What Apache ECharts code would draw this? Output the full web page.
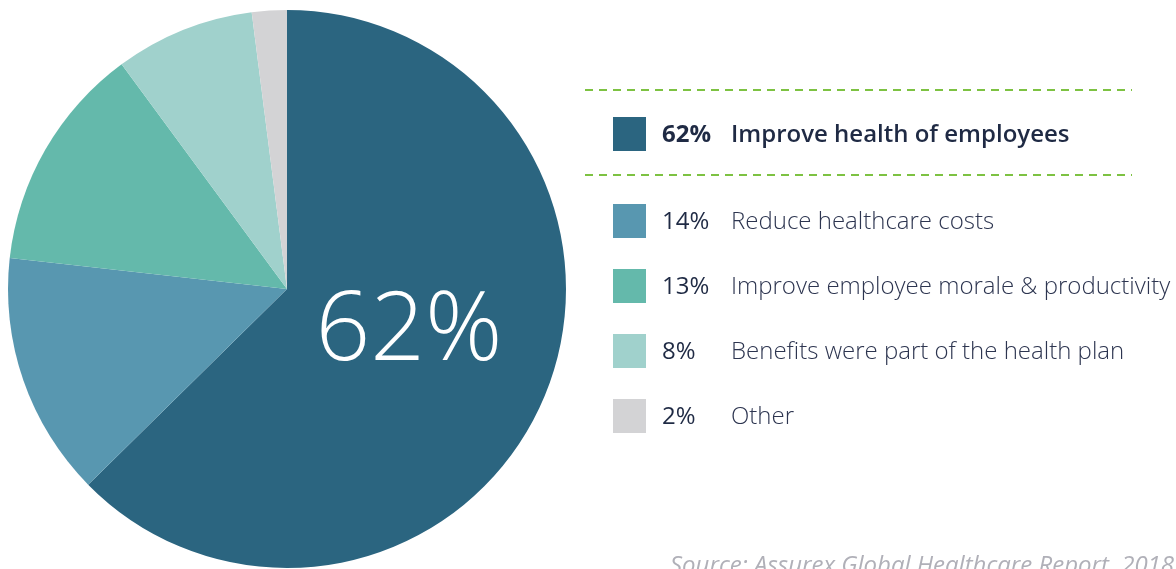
<!DOCTYPE html>
<html>
<head>
<meta charset="utf-8">
<script src="https://cdn.jsdelivr.net/npm/echarts@6/dist/echarts.min.js"></script>
<style>
html,body{margin:0;padding:0;background:#fff;}
#chart{width:1176px;height:569px;}
</style>
</head>
<body>
<div id="chart"></div>
<script>
const categories = [
  'Improve health of employees',
  'Reduce healthcare costs',
  'Improve employee morale & productivity',
  'Benefits were part of the health plan',
  'Other'
];
const values = [62, 14, 13, 8, 2];
const colors = ['#2b6580', '#5897b0', '#64b9ab', '#a0d1cc', '#d3d3d5'];
const centerLabel = '62%';
const sourceText = 'Source: Assurex Global Healthcare Report, 2018';

const chart = echarts.init(document.getElementById('chart'), null, {renderer: 'canvas'});

const FONT = '"Open Sans", "Noto Sans", sans-serif';
const graphics = [];
const lineX1 = 585, lineX2 = 1132;
[90, 175].forEach(y => {
  graphics.push({
    type: 'line', z: 100,
    shape: {x1: lineX1, y1: y, x2: lineX2, y2: y},
    style: {stroke: '#7dc242', lineWidth: 2, lineDash: [8, 6]}
  });
});
categories.forEach((name, i) => {
  const cy = i === 0 ? 134 : 221 + (i - 1) * 65;
  const bold = i === 0;
  graphics.push({
    type: 'rect', z: 100,
    shape: {x: 613, y: cy - 17, width: 33, height: 34},
    style: {fill: colors[i]}
  });
  graphics.push({
    type: 'text', z: 100,
    x: 662, y: cy + 1,
    style: {
      text: values[i] + '%',
      font: (bold ? '700 ' : '400 ') + '24px ' + FONT,
      fill: '#1f2a44',
      verticalAlign: 'middle', align: 'left'
    }
  });
  graphics.push({
    type: 'text', z: 100,
    x: 731, y: cy + 1,
    style: {
      text: name,
      font: (bold ? '600 ' : '300 ') + '24px ' + FONT,
      fill: bold ? '#1f2a44' : '#2d3550',
      verticalAlign: 'middle', align: 'left'
    }
  });
});
graphics.push({
  type: 'text', z: 100,
  x: 670, y: 554,
  style: {
    text: sourceText,
    font: 'italic 400 24px ' + FONT,
    fill: '#b0b0b8',
    verticalAlign: 'top', align: 'left'
  }
});
graphics.push({
  type: 'text', z: 100,
  x: 409, y: 333,
  style: {
    text: centerLabel,
    font: '300 96px ' + FONT,
    fill: '#ffffff',
    verticalAlign: 'middle', align: 'center'
  }
});

chart.setOption({
  animation: false,
  backgroundColor: '#ffffff',
  series: [{
    type: 'pie',
    center: [287, 289],
    radius: [0, 279],
    startAngle: 90,
    clockwise: true,
    label: {show: false},
    labelLine: {show: false},
    itemStyle: {borderWidth: 0},
    emphasis: {disabled: true},
    data: categories.map((name, i) => ({name, value: values[i], itemStyle: {color: colors[i]}}))
  }],
  graphic: graphics
});
</script>
</body>
</html>
